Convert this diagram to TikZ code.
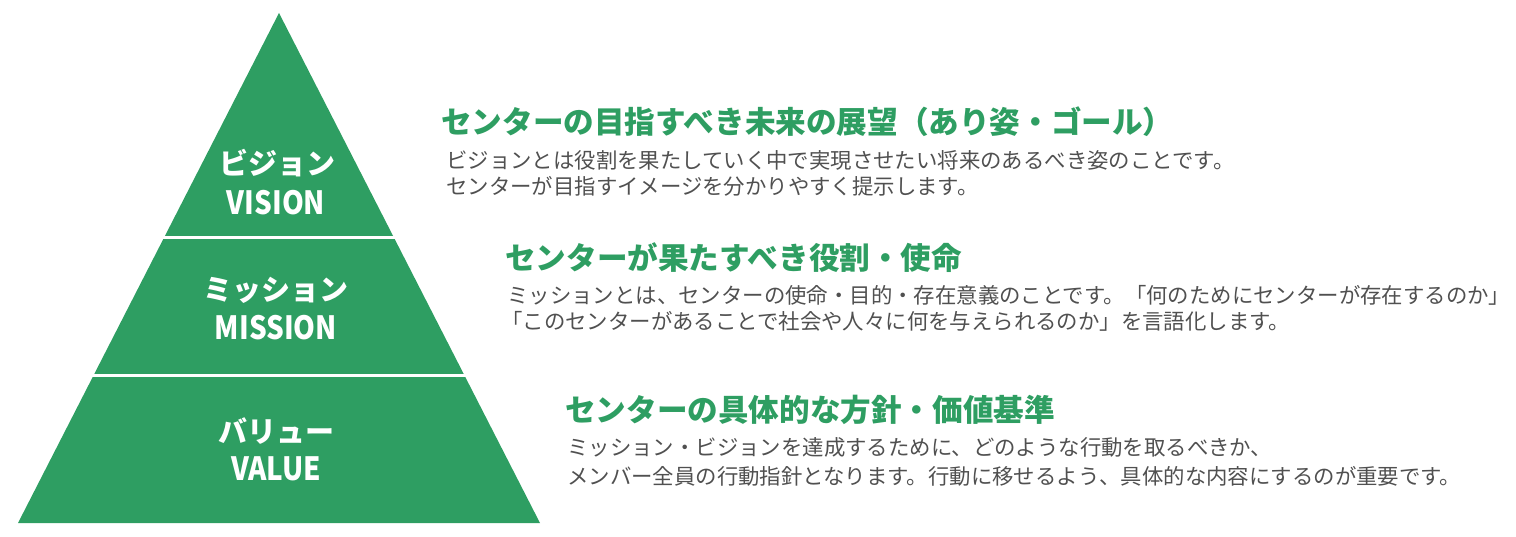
\documentclass[tikz,border=0pt]{standalone}
\usepackage{fontspec}
\setmainfont{Noto Sans CJK JP}
\definecolor{pgreen}{RGB}{46,158,98}
\definecolor{tgray}{RGB}{80,80,80}
\tikzset{
  band/.style={fill=pgreen},
  gap/.style={draw=white, line width=3pt},
  lbljp/.style={text=white, font=\fontsize{29}{31}\selectfont\bfseries, inner sep=0pt},
  lblen/.style={text=white, font=\fontsize{32}{34}\selectfont\bfseries, inner sep=0pt, xscale=0.87},
  head/.style={text=pgreen, font=\fontsize{30.6}{32}\selectfont\bfseries, anchor=west, inner sep=0pt},
  body/.style={text=tgray, font=\fontsize{21.4}{23}\selectfont, anchor=west, inner sep=0pt}
}
\begin{document}
\begin{tikzpicture}[x=1pt,y=-1pt]
\useasboundingbox (0,0) rectangle (1516,537);
% pyramid
\fill[band] (279,13) -- (540,523) -- (18,523) -- cycle;
\draw[gap] (0,238) -- (560,238);
\draw[gap] (0,376) -- (560,376);
% labels
\node[lbljp] (vjp) at (277,163) {ビジョン};
\node[lblen] (ven) at (276,203) {VISION};
\node[lbljp] (mjp) at (276,290) {ミッション};
\node[lblen] (men) at (276,328) {MISSION};
\node[lbljp] (ajp) at (276,431) {バリュー};
\node[lblen] (aen) at (276,469) {VALUE};
% vision text
\node[head] (h1) at (441,122) {センターの目指すべき未来の展望（あり姿・ゴール）};
\node[body] (b1a) at (446,160) {ビジョンとは役割を果たしていく中で実現させたい将来のあるべき姿のことです。};
\node[body] (b1b) at (446,186) {センターが目指すイメージを分かりやすく提示します。};
% mission text
\node[head] (h2) at (505,258) {センターが果たすべき役割・使命};
\node[body] (b2a) at (507,295) {ミッションとは、センターの使命・目的・存在意義のことです。「何のためにセンターが存在するのか」};
\node[body] (b2b) at (501,321) {「このセンターがあることで社会や人々に何を与えられるのか」を言語化します。};
% value text
\node[head] (h3) at (565,410) {センターの具体的な方針・価値基準};
\node[body] (b3a) at (567,447) {ミッション・ビジョンを達成するために、どのような行動を取るべきか、};
\node[body] (b3b) at (567,476) {メンバー全員の行動指針となります。行動に移せるよう、具体的な内容にするのが重要です。};
\end{tikzpicture}
\end{document}
